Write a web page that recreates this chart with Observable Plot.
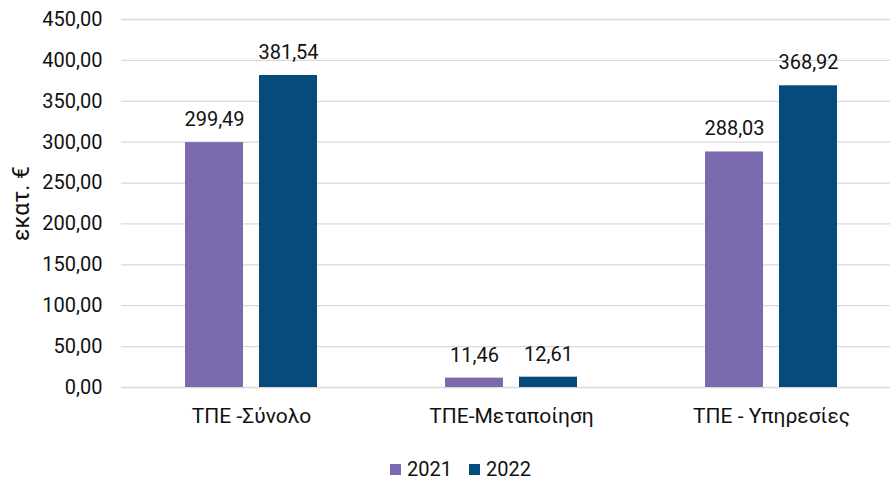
<!DOCTYPE html>
<html>
<head>
<meta charset="utf-8">
<script src="https://cdn.jsdelivr.net/npm/d3@7"></script>
<script src="https://cdn.jsdelivr.net/npm/@observablehq/plot@0.6"></script>
<style>
  body { margin: 0; background: #fff; font-family: Roboto, sans-serif; }
  #chart { width: 890px; }
  .legend { position: relative; height: 38px; }
  .legend .item { position: absolute; top: 0; height: 38px; display: flex; align-items: center; font-size: 20px; color: #111; }
  .legend .sw { width: 11px; height: 11px; margin-right: 6px; }
</style>
</head>
<body>
<div id="chart"></div>
<script>
const categories = ["ΤΠΕ -Σύνολο", "ΤΠΕ-Μεταποίηση", "ΤΠΕ - Υπηρεσίες"];
const years = ["2021", "2022"];
const values2021 = [299.49, 11.46, 288.03];
const values2022 = [381.54, 12.61, 368.92];
const yTicks = [0, 50, 100, 150, 200, 250, 300, 350, 400, 450];
const colors = ["#7B6BAE", "#074A7C"];
const yLabel = "εκατ. €";

const fmt = d => d.toFixed(2).replace(".", ",");

const rows = [];
categories.forEach((c, i) => {
  rows.push({category: c, year: years[0], value: values2021[i]});
  rows.push({category: c, year: years[1], value: values2022[i]});
});
const r2021 = rows.filter(d => d.year === years[0]);
const r2022 = rows.filter(d => d.year === years[1]);

const plot = Plot.plot({
  width: 890,
  height: 450,
  marginLeft: 121,
  marginRight: 0,
  marginTop: 19,
  marginBottom: 63,
  style: {fontFamily: "Roboto, sans-serif", fontSize: "20px", color: "#111", background: "#fff"},
  x: {domain: categories, range: [121, 902], paddingInner: 0.4917, paddingOuter: 0.2458},
  y: {domain: [0, 450]},
  marks: [
    Plot.ruleY(yTicks, {stroke: "#d9d9d9", strokeWidth: 1.3}),
    Plot.barY(r2021, {x: "category", y: "value", fill: colors[0], insetRight: 74}),
    Plot.barY(r2022, {x: "category", y: "value", fill: colors[1], insetLeft: 74}),
    Plot.text(r2021, {x: "category", y: "value", text: d => fmt(d.value), dx: -37, dy: -23, fill: "#111", fontSize: 20}),
    Plot.text(r2022, {x: "category", y: "value", text: d => fmt(d.value), dx: 37, dy: -23, fill: "#111", fontSize: 20}),
    Plot.axisY({ticks: yTicks, tickFormat: fmt, tickSize: 0, tickPadding: 19, fontSize: 20, label: null}),
    Plot.axisY({ticks: [], tickSize: 0, fontSize: 23, label: yLabel, labelAnchor: "center", labelArrow: "none", labelOffset: 109}),
    Plot.axisX({tickSize: 0, tickPadding: 21, fontSize: 21, label: null})
  ]
});
document.getElementById("chart").appendChild(plot);

const legend = d3.select("#chart").append("div").attr("class", "legend");
const lefts = [390, 469];
years.forEach((y, i) => {
  const it = legend.append("div").attr("class", "item").style("left", lefts[i] + "px");
  it.append("div").attr("class", "sw").style("background", colors[i]);
  it.append("span").text(y);
});
</script>
</body>
</html>
